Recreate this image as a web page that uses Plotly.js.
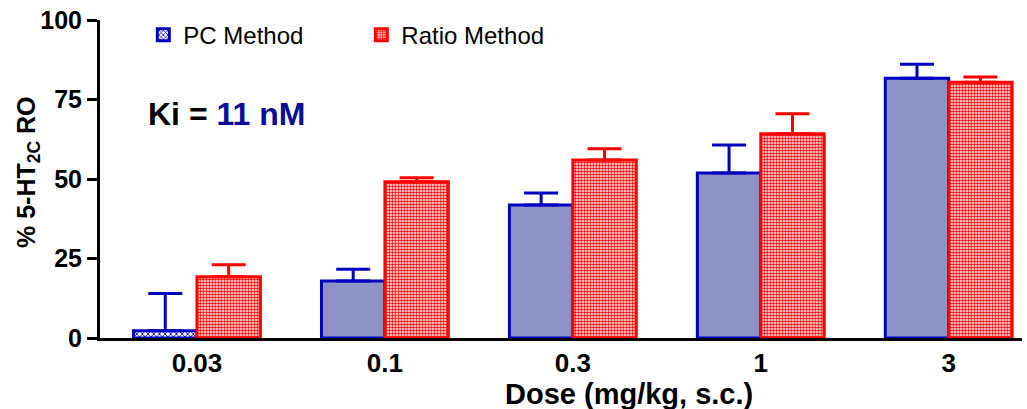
<!DOCTYPE html>
<html>
<head>
<meta charset="utf-8">
<script src="https://cdn.plot.ly/plotly-3.0.1.min.js"></script>
<style>html,body{margin:0;padding:0;background:#fff;}#chart{width:1027px;height:409px;}</style>
</head>
<body>
<div id="chart"></div>
<script>
const doses = ['0.03', '0.1', '0.3', '1', '3'];
const pcValues = [2.3, 17.9, 41.8, 51.9, 81.7];
const pcErrors = [11.7, 3.7, 3.8, 8.8, 4.4];
const ratioValues = [19.3, 49.1, 56.0, 64.2, 80.4];
const ratioErrors = [3.7, 1.3, 3.5, 6.3, 1.7];
const yTicks = [0, 25, 50, 75, 100];

const FONT = 'Liberation Sans, Arial, sans-serif';

const traces = [
  {
    type: 'bar', name: 'PC Method', x: doses, y: pcValues,
    marker: {
      color: '#8e92c6',
      line: {color: '#0000c0', width: 3},
      pattern: {shape: ['x', '', '', '', ''], fgcolor: '#0000c0', bgcolor: '#ffffff', size: 4, solidity: 0.4, fillmode: 'replace'}
    },
    error_y: {type: 'data', array: pcErrors, symmetric: false, arrayminus: [0,0,0,0,0], color: '#0000c0', thickness: 3, width: 17}
  },
  {
    type: 'bar', name: 'Ratio Method', x: doses, y: ratioValues,
    marker: {
      color: '#ffffff',
      line: {color: '#ff0000', width: 3},
      pattern: {shape: '.', fgcolor: '#ff0000', bgcolor: '#ffffff', size: 3, solidity: 0.55, fillmode: 'replace'}
    },
    error_y: {type: 'data', array: ratioErrors, symmetric: false, arrayminus: [0,0,0,0,0], color: '#ff0000', thickness: 3, width: 17}
  }
];

const layout = {
  width: 1027, height: 409,
  margin: {l: 100, r: 5, t: 20, b: 71},
  paper_bgcolor: '#ffffff', plot_bgcolor: '#ffffff',
  barmode: 'group', bargap: 0.325, bargroupgap: 0,
  showlegend: true,
  legend: {orientation: 'h', x: 0.047, y: 0.952, xanchor: 'left', yanchor: 'middle',
    font: {family: FONT, size: 24, color: '#000'}, bgcolor: 'rgba(0,0,0,0)',
    entrywidth: 173, traceorder: 'normal'},
  xaxis: {
    type: 'category', range: [-0.516, 4.39],
    showline: true, linecolor: '#000', linewidth: 3, ticks: '',
    showgrid: false, zeroline: false, automargin: false,
    tickfont: {family: FONT, size: 26, color: '#000', weight: 'bold'}
  },
  yaxis: {
    range: [0, 100], tickvals: yTicks, ticktext: yTicks.map(String),
    showline: true, linecolor: '#000', linewidth: 3, ticks: 'outside', ticklen: 10, tickwidth: 3, tickcolor: '#000',
    showgrid: false, zeroline: false, automargin: false,
    tickfont: {family: FONT, size: 25, color: '#000', weight: 'bold'}
  },
  annotations: [
    {
      xref: 'paper', yref: 'paper', x: 0.050, y: 0.703, xanchor: 'left', yanchor: 'middle', showarrow: false,
      text: '<b>Ki = <span style="color:#0c0c9a">11 nM</span></b>',
      font: {family: FONT, size: 32, color: '#000'}
    },
    {
      xref: 'paper', yref: 'paper', x: (629 - 100) / 922, y: -0.175, xanchor: 'center', yanchor: 'middle', showarrow: false,
      text: '<b>Dose (mg/kg, s.c.)</b>',
      font: {family: FONT, size: 29, color: '#000'}
    },
    {
      xref: 'paper', yref: 'paper', x: -(100 - 28) / 922, y: (338 - 172) / 318, xanchor: 'center', yanchor: 'middle', showarrow: false,
      textangle: -90,
      text: '<b>% 5-HT<sub>2C</sub> RO</b>',
      font: {family: FONT, size: 25, color: '#000'}
    }
  ]
};

Plotly.newPlot('chart', traces, layout, {displayModeBar: false, staticPlot: true});
</script>
</body>
</html>
